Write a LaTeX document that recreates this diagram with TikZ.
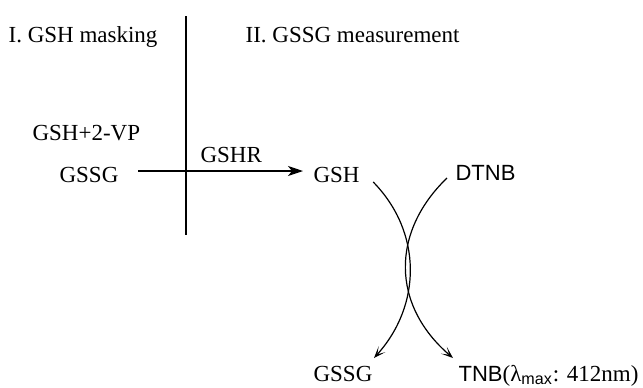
\documentclass[tikz,border=0pt]{standalone}
\usepackage{fontspec}
\setmainfont{Liberation Serif}
\setsansfont{Liberation Sans}
\usetikzlibrary{positioning, arrows.meta}

\begin{document}
\begin{tikzpicture}[x=0.5pt, y=-0.5pt, line width=0.6pt,
    label/.style = {inner sep=0pt, anchor=base west, font=\fontsize{11.5}{14}\selectfont},
    reagent/.style = {label, font=\sffamily\fontsize{11}{13}\selectfont},
    arrow/.style = {-{Stealth[length=7.5pt, width=5pt, inset=2pt]}},
    bent/.style = {-{Stealth[length=6pt, width=4.5pt, inset=3.5pt]}}]

    \useasboundingbox (0,0) rectangle (643,387);

    % Steps
    \node [label] (masking) at (8,42) {I. GSH masking};
    \node [label] (measure) at (245,42) {II. GSSG measurement};
    \coordinate (divtop) at (186,16);
    \coordinate (divbot) at (186,235);
    \draw (divtop) -- (divbot);

    % Species
    \node [label] (vp) at (32,140) {GSH+2-VP};
    \node [label] (gssgA) at (59,182) {GSSG};
    \node [label] (gsh) at (313,182) {GSH};
    \node [reagent] (dtnb) at (455,180) {DTNB};
    \node [label] (gssgB) at (313,381) {GSSG};
    \node [label] (tnb) at (458,381) {{\sffamily\fontsize{11}{13}\selectfont TNB}(λ\textsubscript{\sffamily max}: 412nm)};

    % Reactions
    \draw [arrow] ([xshift=9.5pt, yshift=1.75pt]gssgA.east) -- ([xshift=-5pt, yshift=1.75pt]gsh.west);
    \node [label] (gshr) at (200,162) {GSHR};
    \draw [bent] ([xshift=6.5pt]gsh.base east) .. controls +(49,50) and +(48,-53) .. ([xshift=0.5pt, yshift=11.5pt]gssgB.base east);
    \draw [bent] ([xshift=-4pt, yshift=1pt]dtnb.base west) .. controls +(-56,54) and +(-62,-53) .. ([xshift=-2.5pt, yshift=11.5pt]tnb.base west);
\end{tikzpicture}
\end{document}
